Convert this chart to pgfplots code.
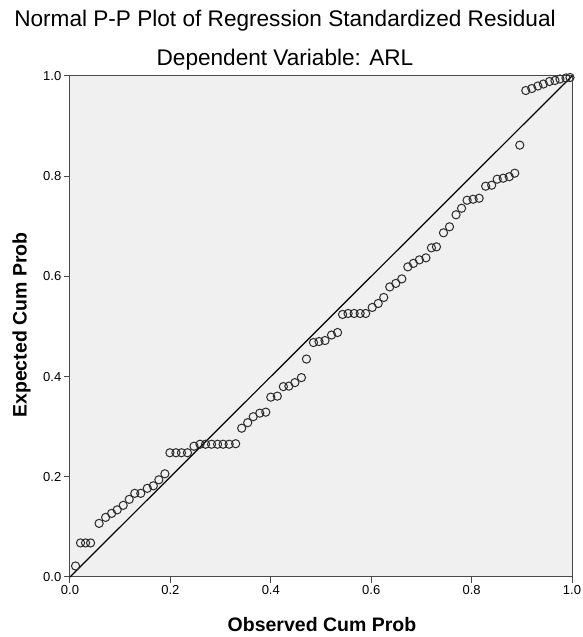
\documentclass[border=0pt]{standalone}
\usepackage{fontspec}
\setmainfont{Liberation Sans}
\usepackage{pgfplots}
\pgfplotsset{compat=1.18}
\definecolor{bg}{HTML}{F0F0F0}
\definecolor{framec}{HTML}{4A4A4A}
\definecolor{mk}{HTML}{2A2A2A}
\begin{document}
\begin{tikzpicture}
\useasboundingbox (-70pt,-60pt) rectangle (513pt,577pt);
\begin{axis}[
  at={(0pt,0pt)}, anchor=south west,
  scale only axis, width=502pt, height=501pt,
  xmin=0, xmax=1, ymin=0, ymax=1,
  clip=false,
  axis background/.style={fill=bg},
  axis line style={framec, line width=1pt},
  xtick={0,0.2,0.4,0.6,0.8,1.0},
  ytick={0,0.2,0.4,0.6,0.8,1.0},
  tick align=outside, tick pos=left,
  major tick length=6pt,
  tick style={framec, line width=1pt},
  ticklabel style={font=\fontsize{13}{15}\selectfont, text=black},
  xticklabel style={inner sep=2.5pt},
  yticklabel style={inner sep=2.5pt},
  /pgf/number format/fixed,
  /pgf/number format/fixed zerofill,
  /pgf/number format/precision=1,
  /pgf/number format/assume math mode=true,
]
\addplot[black, line width=1.2pt, no marks] coordinates {(0,0) (1,1)};
\addplot[only marks, mark=o, mark size=4.1pt, mark options={mk, line width=1pt}] coordinates {
(0.011,0.022) (0.021,0.068) (0.031,0.068) (0.041,0.068) (0.058,0.107)
(0.071,0.119) (0.083,0.127) (0.094,0.134) (0.106,0.143) (0.118,0.155)
(0.129,0.167) (0.141,0.167) (0.154,0.177) (0.166,0.182) (0.177,0.194)
(0.189,0.206) (0.199,0.248) (0.211,0.248) (0.222,0.248) (0.234,0.248)
(0.247,0.261) (0.259,0.265) (0.270,0.265) (0.282,0.265) (0.294,0.265)
(0.305,0.265) (0.317,0.265) (0.330,0.266) (0.342,0.297) (0.354,0.308)
(0.365,0.320) (0.378,0.327) (0.390,0.329) (0.400,0.359) (0.413,0.361)
(0.425,0.380) (0.436,0.381) (0.448,0.388) (0.461,0.398) (0.471,0.435)
(0.485,0.468) (0.496,0.470) (0.508,0.472) (0.521,0.483) (0.533,0.488)
(0.543,0.524) (0.554,0.526) (0.566,0.526) (0.578,0.526) (0.589,0.526)
(0.602,0.538) (0.614,0.546) (0.625,0.558) (0.637,0.579) (0.649,0.586)
(0.661,0.595) (0.673,0.619) (0.684,0.626) (0.696,0.633) (0.709,0.637)
(0.720,0.657) (0.730,0.659) (0.744,0.687) (0.756,0.699) (0.769,0.723)
(0.780,0.736) (0.791,0.752) (0.803,0.754) (0.815,0.756) (0.828,0.780)
(0.840,0.782) (0.851,0.794) (0.863,0.796) (0.875,0.799) (0.886,0.806)
(0.896,0.862) (0.908,0.971) (0.920,0.975) (0.932,0.980) (0.943,0.984)
(0.955,0.989) (0.966,0.991) (0.976,0.994) (0.988,0.996) (0.996,0.997)
};
\end{axis}
\node[anchor=base, font=\fontsize{22.6}{26}\selectfont] at (215pt,550.5pt) {Normal P-P Plot of Regression Standardized Residual};
\node[anchor=base, font=\fontsize{22.6}{26}\selectfont] at (215pt,511pt) {Dependent Variable: ARL};
\node[anchor=base, font=\bfseries\fontsize{19.5}{22}\selectfont] at (252pt,-54.7pt) {Observed Cum Prob};
\node[anchor=base, rotate=90, font=\bfseries\fontsize{19.5}{22}\selectfont] at (-43.3pt,252pt) {Expected Cum Prob};
\end{tikzpicture}
\end{document}
